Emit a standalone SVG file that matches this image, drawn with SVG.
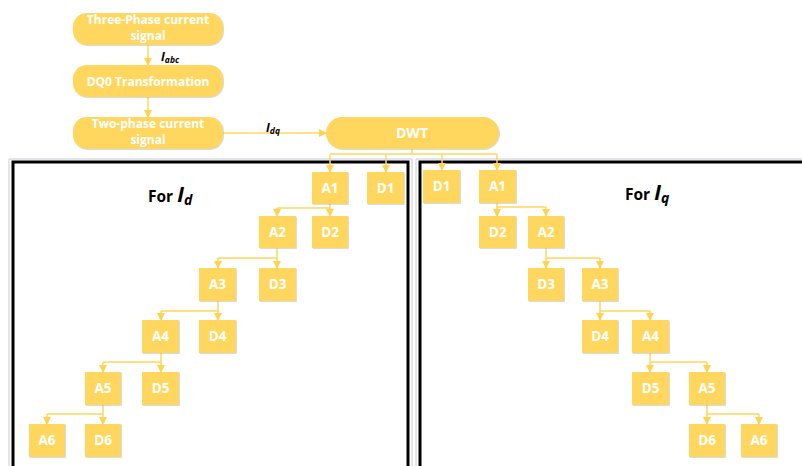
<svg xmlns="http://www.w3.org/2000/svg" width="802" height="466" viewBox="0 0 802 466">
<defs>
<marker id="ah" markerUnits="userSpaceOnUse" markerWidth="8" markerHeight="8" refX="7" refY="4" orient="auto">
<path d="M0,0 L8,4 L0,8 z" fill="#FFD24F"/>
</marker>
<filter id="sh" x="-10%" y="-10%" width="130%" height="130%">
<feDropShadow dx="0.8" dy="0.8" stdDeviation="0.6" flood-color="#9aa7b8" flood-opacity="0.5"/>
</filter>
</defs>
<style>
.pill{fill:#FFD75E;filter:url(#sh)}
.box{fill:#FFD75E;filter:url(#sh)}
.t{font-family:"Open Sans","Liberation Sans",sans-serif;font-weight:bold;fill:#FFFFFF;text-anchor:middle}
.tb{font-size:12px}
.tn{font-size:13.5px}
.c{fill:none;stroke:#FFD75E;stroke-width:1.5}
.ca{fill:none;stroke:#FFD75E;stroke-width:1.5;marker-end:url(#ah)}
.lab{font-family:"Open Sans","Liberation Sans",sans-serif;font-weight:bold;fill:#000000}
.frame{fill:none;stroke:#000000;stroke-width:3}
.frame2{fill:none;stroke:#c9ccd4;stroke-width:1}
</style>
<rect width="802" height="466" fill="#FFFFFF"/>

<g id="frames">
<path class="frame2" d="M9,470 V159 H412 V470"/>
<path class="frame" d="M13,470 V162 H408 V470"/>
<path class="frame2" d="M416,470 V159 H806"/>
<path class="frame" d="M420,470 V162 H806"/>
</g>

<g id="connectors">
<line class="ca" x1="148" y1="45" x2="148" y2="65"/>
<line class="ca" x1="148" y1="97" x2="148" y2="117"/>
<line class="ca" x1="223" y1="133" x2="326" y2="133"/>
<path class="c" d="M412,149 V154 M330,154 H497"/>
<line class="ca" x1="330" y1="154" x2="330" y2="172"/>
<line class="ca" x1="386" y1="154" x2="386" y2="172"/>
<line class="ca" x1="442" y1="154" x2="442" y2="170"/>
<line class="ca" x1="497" y1="154" x2="497" y2="170"/>
<!-- left tree -->
<path class="c" d="M330,204 V208 M277,208 H330"/>
<line class="ca" x1="277" y1="208" x2="277" y2="216"/>
<line class="ca" x1="330" y1="208" x2="330" y2="216"/>
<path class="c" d="M277,248 V258 M218,258 H277"/>
<line class="ca" x1="218" y1="258" x2="218" y2="268"/>
<line class="ca" x1="277" y1="258" x2="277" y2="268"/>
<path class="c" d="M218,301 V311 M161,311 H218"/>
<line class="ca" x1="161" y1="311" x2="161" y2="320"/>
<line class="ca" x1="218" y1="311" x2="218" y2="320"/>
<path class="c" d="M161,353 V362 M103,362 H161"/>
<line class="ca" x1="103" y1="362" x2="103" y2="372"/>
<line class="ca" x1="161" y1="362" x2="161" y2="372"/>
<path class="c" d="M103,405 V414 M47,414 H103"/>
<line class="ca" x1="47" y1="414" x2="47" y2="424"/>
<line class="ca" x1="103" y1="414" x2="103" y2="424"/>
<!-- right tree -->
<path class="c" d="M497,203 V207 M497,207 H546"/>
<line class="ca" x1="497" y1="207" x2="497" y2="216"/>
<line class="ca" x1="546" y1="207" x2="546" y2="216"/>
<path class="c" d="M546,248 V258 M546,258 H600"/>
<line class="ca" x1="546" y1="258" x2="546" y2="268"/>
<line class="ca" x1="600" y1="258" x2="600" y2="268"/>
<path class="c" d="M600,301 V311 M600,311 H650"/>
<line class="ca" x1="600" y1="311" x2="600" y2="320"/>
<line class="ca" x1="650" y1="311" x2="650" y2="320"/>
<path class="c" d="M650,353 V362 M650,362 H707"/>
<line class="ca" x1="650" y1="362" x2="650" y2="372"/>
<line class="ca" x1="707" y1="362" x2="707" y2="372"/>
<path class="c" d="M707,405 V414 M707,414 H759"/>
<line class="ca" x1="707" y1="414" x2="707" y2="424"/>
<line class="ca" x1="759" y1="414" x2="759" y2="424"/>
</g>

<g id="edge-labels">
<text class="lab" x="161" y="61" font-size="12" font-style="italic">I<tspan font-size="8.5" dy="2">abc</tspan></text>
<text class="lab" x="266" y="132" font-size="12" font-style="italic">I<tspan font-size="8.5" dy="2">dq</tspan></text>
</g>

<g id="n-three-phase">
<rect class="pill" x="73" y="13" width="150" height="32" rx="14"/>
<text class="t tb" x="148" y="23.5">Three-Phase current</text>
<text class="t tb" x="148" y="40">signal</text>
</g>
<g id="n-dq0">
<rect class="pill" x="73" y="65" width="150" height="32" rx="14"/>
<text class="t tb" x="148" y="85.5" font-size="12.5">DQ0 Transformation</text>
</g>
<g id="n-two-phase">
<rect class="pill" x="73" y="117" width="150" height="32" rx="14"/>
<text class="t tb" x="148" y="127.5">Two-phase current</text>
<text class="t tb" x="148" y="144">signal</text>
</g>
<g id="n-dwt">
<rect class="pill" x="326" y="117" width="173" height="32" rx="16"/>
<text class="t" x="412" y="138" font-size="14">DWT</text>
</g>

<g id="title-d">
<text class="lab" x="148" y="202" font-size="15.5">For <tspan font-size="21" font-style="italic">I</tspan><tspan font-size="14" font-style="italic" dy="3">d</tspan></text>
</g>
<g id="title-q">
<text class="lab" x="625" y="200" font-size="15.5">For <tspan font-size="21" font-style="italic">I</tspan><tspan font-size="14" font-style="italic" dy="3">q</tspan></text>
</g>

<!-- left tree nodes -->
<g id="d-A1"><rect class="box" x="312" y="172" width="36" height="32"/><text class="t tn" x="330" y="193">A1</text></g>
<g id="d-D1"><rect class="box" x="367" y="172" width="37" height="32"/><text class="t tn" x="385.5" y="193">D1</text></g>
<g id="d-A2"><rect class="box" x="259" y="216" width="37" height="32"/><text class="t tn" x="277.5" y="237">A2</text></g>
<g id="d-D2"><rect class="box" x="312" y="216" width="36" height="32"/><text class="t tn" x="330" y="237">D2</text></g>
<g id="d-A3"><rect class="box" x="199" y="268" width="37" height="33"/><text class="t tn" x="217.5" y="289">A3</text></g>
<g id="d-D3"><rect class="box" x="259" y="268" width="37" height="33"/><text class="t tn" x="277.5" y="289">D3</text></g>
<g id="d-A4"><rect class="box" x="142" y="320" width="37" height="33"/><text class="t tn" x="160.5" y="341">A4</text></g>
<g id="d-D4"><rect class="box" x="199" y="320" width="37" height="33"/><text class="t tn" x="217.5" y="341">D4</text></g>
<g id="d-A5"><rect class="box" x="85" y="372" width="36" height="33"/><text class="t tn" x="103" y="393">A5</text></g>
<g id="d-D5"><rect class="box" x="142" y="372" width="37" height="33"/><text class="t tn" x="160.5" y="393">D5</text></g>
<g id="d-A6"><rect class="box" x="29" y="424" width="36" height="33"/><text class="t tn" x="47" y="445">A6</text></g>
<g id="d-D6"><rect class="box" x="85" y="424" width="36" height="33"/><text class="t tn" x="103" y="445">D6</text></g>

<!-- right tree nodes -->
<g id="q-D1"><rect class="box" x="423" y="170" width="37" height="33"/><text class="t tn" x="441.5" y="191">D1</text></g>
<g id="q-A1"><rect class="box" x="479" y="170" width="37" height="33"/><text class="t tn" x="497.5" y="191">A1</text></g>
<g id="q-D2"><rect class="box" x="479" y="216" width="37" height="32"/><text class="t tn" x="497.5" y="237">D2</text></g>
<g id="q-A2"><rect class="box" x="528" y="216" width="36" height="32"/><text class="t tn" x="546" y="237">A2</text></g>
<g id="q-D3"><rect class="box" x="528" y="268" width="36" height="33"/><text class="t tn" x="546" y="289">D3</text></g>
<g id="q-A3"><rect class="box" x="582" y="268" width="36" height="33"/><text class="t tn" x="600" y="289">A3</text></g>
<g id="q-D4"><rect class="box" x="582" y="320" width="36" height="33"/><text class="t tn" x="600" y="341">D4</text></g>
<g id="q-A4"><rect class="box" x="632" y="320" width="37" height="33"/><text class="t tn" x="650.5" y="341">A4</text></g>
<g id="q-D5"><rect class="box" x="632" y="372" width="37" height="33"/><text class="t tn" x="650.5" y="393">D5</text></g>
<g id="q-A5"><rect class="box" x="689" y="372" width="36" height="33"/><text class="t tn" x="707" y="393">A5</text></g>
<g id="q-D6"><rect class="box" x="689" y="424" width="36" height="33"/><text class="t tn" x="707" y="445">D6</text></g>
<g id="q-A6"><rect class="box" x="741" y="424" width="36" height="33"/><text class="t tn" x="759" y="445">A6</text></g>
</svg>
